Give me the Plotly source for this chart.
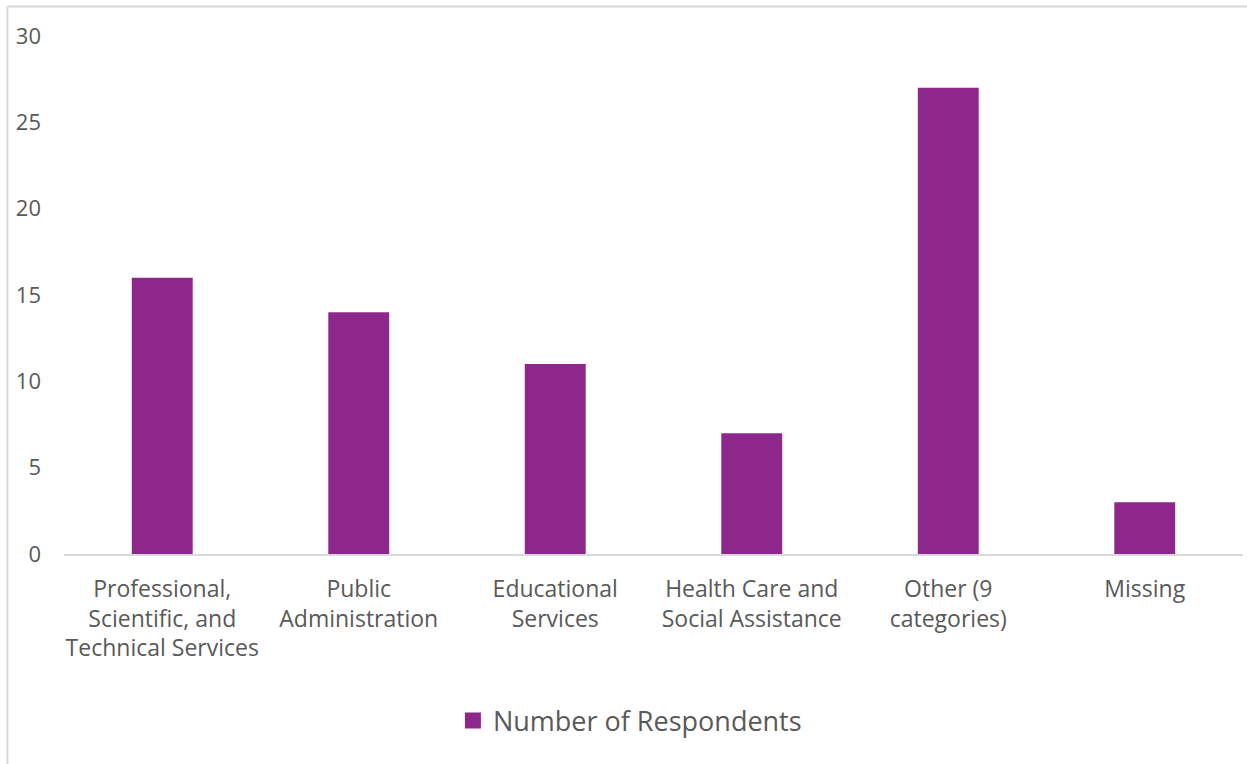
import plotly.graph_objects as go

categories = [
    "Professional,<br>Scientific, and<br>Technical Services",
    "Public<br>Administration",
    "Educational<br>Services",
    "Health Care and<br>Social Assistance",
    "Other (9<br>categories)",
    "Missing",
]
respondents = [16, 14, 11, 7, 27, 3]
series_name = "Number of Respondents"
y_ticks = [0, 5, 10, 15, 20, 25, 30]

bar_color = "#8E278C"
text_color = "#595959"
line_color = "#D9D9D9"
font_family = "Open Sans, Noto Sans, sans-serif"

fig = go.Figure()
fig.add_trace(
    go.Bar(
        x=categories,
        y=respondents,
        name=series_name,
        marker=dict(color=bar_color, line=dict(width=0)),
        showlegend=False,
    )
)
# legend entry with a larger square swatch for the series
fig.add_trace(
    go.Scatter(
        x=[None],
        y=[None],
        mode="markers",
        name=series_name,
        marker=dict(symbol="square", size=18, color=bar_color),
        showlegend=True,
        hoverinfo="skip",
    )
)

fig.update_layout(
    width=1247,
    height=764,
    margin=dict(l=64, r=4, t=36, b=210),
    paper_bgcolor="white",
    plot_bgcolor="white",
    bargap=0.69,
    font=dict(family=font_family, color=text_color, size=22),
    xaxis=dict(
        showgrid=False,
        showline=True,
        linecolor=line_color,
        linewidth=2,
        ticks="",
        ticklabelstandoff=13,
        tickfont=dict(size=23, color=text_color),
    ),
    yaxis=dict(
        range=[0, 30],
        tickvals=y_ticks,
        showgrid=False,
        showline=False,
        zeroline=False,
        ticks="",
        ticklabelstandoff=22,
        tickfont=dict(size=22, color=text_color),
    ),
    legend=dict(
        orientation="h",
        x=0.48,
        xanchor="center",
        y=-0.275,
        yanchor="top",
        font=dict(size=27, color=text_color),
        itemwidth=30,
    ),
    shapes=[
        # chart frame edges (top and left)
        dict(type="line", xref="paper", yref="paper",
             x0=-0.048, x1=1.01, y0=1.057, y1=1.057,
             line=dict(color=line_color, width=2)),
        dict(type="line", xref="paper", yref="paper",
             x0=-0.048, x1=-0.048, y0=1.057, y1=-0.45,
             line=dict(color=line_color, width=2)),
    ],
)

fig.write_html("out.html")
